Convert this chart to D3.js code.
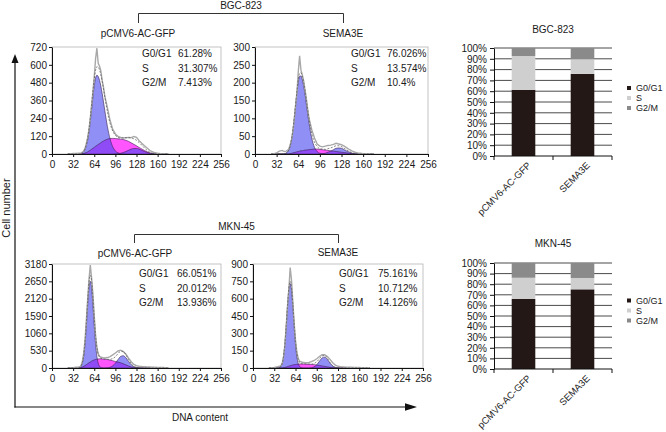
<!DOCTYPE html>
<html><head><meta charset="utf-8">
<script src="https://cdn.jsdelivr.net/npm/d3@7"></script>
<style>
body{margin:0;background:#fff}
svg{display:block}
text{font-family:"Liberation Sans",Arial,sans-serif;fill:#1a1a1a}
</style></head>
<body><svg width="666" height="432"></svg>
<script>
// ---------- DATA ----------
const channels = [24,28,32,36,40,42,44,46,48,50,52,54,56,58,60,62,64,66,68,70,72,74,76,78,80,84,88,92,96,100,104,108,112,116,120,124,128,132,136,140,144,148,152,156,160,164,168,172,176];
const xTickValues = [0,32,64,96,128,160,192,224,256];
const phases = ["G0/G1","S","G2/M"];
const groups = ["pCMV6-AC-GFP","SEMA3E"];
const pctTicks = [0,10,20,30,40,50,60,70,80,90,100];

// BGC-823 pCMV6-AC-GFP
const bgcCtrlTicks = [0,120,240,360,480,600,720];
const bgcCtrlStats = [61.28,31.307,7.413];
const bgcCtrlG1 = [0,0,0,0,0,1,3,7,15,30,58,93,147,218,300,385,460,511,530,521,496,457,407,350,292,184,101,49,21,8,2,1,0,0,0,0,0,0,0,0,0,0,0,0,0,0,0,0,0];
const bgcCtrlS  = [0,0,0,0,0,0,0,1,3,6,10,14,20,26,32,38,45,52,58,64,70,76,82,87,92,100,104,105,104,102,100,97,92,85,75,65,55,44,34,24,15,8,3,0,0,0,0,0,0];
const bgcCtrlG2 = [0,0,0,0,0,0,0,0,0,0,0,0,0,0,0,0,0,0,0,0,0,0,0,0,0,0,0,0,1,2,5,10,17,25,33,37,37,33,25,17,10,5,2,1,0,0,0,0,0];
const bgcCtrlRaw = [0,1,3,4,6,5,8,12,20,38,70,110,165,240,330,420,520,640,712,610,590,560,495,450,390,310,225,165,135,118,112,108,110,112,110,118,112,90,72,55,40,25,15,8,5,3,2,1,1];

// BGC-823 SEMA3E
const bgcSemaTicks = [0,50,100,150,200,250,300];
const bgcSemaStats = [76.026,13.574,10.4];
const bgcSemaG1 = [0,0,0,0,0,0,1,2,6,11,22,39,64,96,133,170,201,218,219,209,191,168,140,112,86,44,19,7,2,1,0,0,0,0,0,0,0,0,0,0,0,0,0,0,0,0,0,0,0];
const bgcSemaS  = [0,0,0,0,0,0,0,0,0,0,1,2,3,4,5,6,7,8,9,9,10,11,11,12,12,13,14,14,13,12,11,10,9,8,7,6,5,4,3,2,1,0,0,0,0,0,0,0,0];
const bgcSemaG2 = [0,0,0,0,0,0,0,0,0,0,0,0,0,0,0,0,0,0,0,0,0,0,0,0,0,0,0,0,0,1,2,5,8,12,16,17,16,12,8,5,2,1,0,0,0,0,0,0,0];
const bgcSemaRaw = [0,1,3,8,10,8,7,8,10,14,25,40,62,95,135,170,230,275,235,222,205,180,155,125,100,68,45,28,22,20,22,24,25,27,30,28,26,22,17,12,8,5,3,2,1,1,1,0,0];

// MKN-45 pCMV6-AC-GFP
const mknCtrlTicks = [0,530,1060,1590,2120,2650,3180];
const mknCtrlStats = [66.051,20.012,13.936];
const mknCtrlG1 = [0,0,0,0,4,16,53,149,359,737,1290,1924,2446,2650,2446,1924,1290,737,359,149,53,16,4,1,0,0,0,0,0,0,0,0,0,0,0,0,0,0,0,0,0,0,0,0,0,0,0,0,0];
const mknCtrlS  = [0,0,0,0,0,5,15,30,50,75,100,130,160,185,210,230,248,260,270,276,280,280,278,275,270,258,242,222,198,180,160,130,95,60,30,10,3,0,0,0,0,0,0,0,0,0,0,0,0];
const mknCtrlG2 = [0,0,0,0,0,0,0,0,0,0,0,0,0,0,0,0,0,0,0,0,0,0,0,0,1,6,23,66,147,259,354,376,312,201,101,40,12,2,0,0,0,0,0,0,0,0,0,0,0];
const mknCtrlRaw = [0,2,10,25,30,35,80,200,450,850,1450,2100,2700,3150,2750,2250,1600,1000,620,430,360,330,320,310,305,320,350,400,460,520,545,500,420,300,190,110,70,55,45,40,35,30,25,22,20,18,15,12,10];

// MKN-45 SEMA3E
const mknSemaTicks = [0,150,300,450,600,750,900];
const mknSemaStats = [75.161,10.712,14.126];
const mknSemaG1 = [0,0,0,0,4,15,41,99,203,356,530,674,730,674,530,356,203,99,41,15,4,1,0,0,0,0,0,0,0,0,0,0,0,0,0,0,0,0,0,0,0,0,0,0,0,0,0,0,0];
const mknSemaS  = [0,0,0,0,0,0,0,2,5,8,12,16,20,23,26,28,30,32,33,34,35,35,35,35,34,33,31,29,26,22,18,14,10,6,3,1,0,0,0,0,0,0,0,0,0,0,0,0,0];
const mknSemaG2 = [0,0,0,0,0,0,0,0,0,0,0,0,0,0,0,0,0,0,0,0,0,0,0,0,0,0,2,10,28,58,87,94,74,42,17,5,1,0,0,0,0,0,0,0,0,0,0,0,0];
const mknSemaRaw = [0,2,5,10,15,20,40,95,200,360,540,680,870,760,570,390,240,140,85,60,55,50,48,45,45,48,55,65,80,100,115,115,100,75,45,25,15,12,10,8,7,6,5,4,4,3,3,2,2];

const phaseColors = ["#231815","#cfcfcf","#8a8a8a"];

// ---------- DRAW ----------
const svg = d3.select("svg");
const FONT = "Liberation Sans, Arial, sans-serif";

// big axes with arrows
svg.append("line").attr("x1",15).attr("y1",407.5).attr("x2",15).attr("y2",60)
  .attr("stroke","#111").attr("stroke-width",1.2);
svg.append("path").attr("d","M15,54L11.5,63L18.5,63Z").attr("fill","#111");
svg.append("line").attr("x1",14.4).attr("y1",407).attr("x2",408).attr("y2",407)
  .attr("stroke","#111").attr("stroke-width",1.2);
svg.append("path").attr("d","M417,407L405,403.3L405,410.7Z").attr("fill","#111");
svg.append("text").attr("transform","translate(9.5,208) rotate(-90)")
  .attr("text-anchor","middle").attr("font-size",11).text("Cell number");
svg.append("text").attr("x",200).attr("y",421)
  .attr("text-anchor","middle").attr("font-size",10).text("DNA content");

// brackets
function bracket(xl, xr, y, yb, label, labelY) {
  svg.append("path").attr("d",`M${xl},${yb}V${y}H${xr}V${yb}`)
    .attr("fill","none").attr("stroke","#333").attr("stroke-width",1);
  svg.append("text").attr("x",(xl+xr)/2).attr("y",labelY)
    .attr("text-anchor","middle").attr("font-size",10).text(label);
}
bracket(138.5, 343.5, 13.5, 23, "BGC-823", 9);
bracket(134.5, 338.5, 234.5, 243, "MKN-45", 229.5);

// histograms
const panels = [
  {title:groups[0], raw:bgcCtrlRaw, g1:bgcCtrlG1, s:bgcCtrlS, g2:bgcCtrlG2, ticks:bgcCtrlTicks, stats:bgcCtrlStats,
   x0:52, x1:221, yTop:47, yBot:154, labX:142, valX:178, statY:[57,71.5,86], titleX:138, titleY:36.5},
  {title:groups[1], raw:bgcSemaRaw, g1:bgcSemaG1, s:bgcSemaS, g2:bgcSemaG2, ticks:bgcSemaTicks, stats:bgcSemaStats,
   x0:255, x1:428, yTop:47, yBot:154, labX:351, valX:387, statY:[57,71.5,86], titleX:343, titleY:36.5},
  {title:groups[0], raw:mknCtrlRaw, g1:mknCtrlG1, s:mknCtrlS, g2:mknCtrlG2, ticks:mknCtrlTicks, stats:mknCtrlStats,
   x0:52, x1:221, yTop:264, yBot:368, labX:139, valX:177, statY:[277,291.5,306], titleX:135, titleY:256.5},
  {title:groups[1], raw:mknSemaRaw, g1:mknSemaG1, s:mknSemaS, g2:mknSemaG2, ticks:mknSemaTicks, stats:mknSemaStats,
   x0:253, x1:423, yTop:264, yBot:368, labX:339, valX:378, statY:[277,291.5,306], titleX:338, titleY:256}
];

function styleAxis(g) {
  g.attr("font-family",FONT).attr("font-size",10);
  g.select(".domain").attr("stroke","#111");
  g.selectAll(".tick line").attr("stroke","#111");
  g.selectAll(".tick text").attr("fill","#1a1a1a");
}

panels.forEach(p => {
  const x = d3.scaleLinear().domain([0,256]).range([p.x0,p.x1]);
  const y = d3.scaleLinear().domain([0,d3.max(p.ticks)]).range([p.yBot,p.yTop]);
  const g = svg.append("g");
  g.append("rect").attr("x",p.x0).attr("y",p.yTop).attr("width",p.x1-p.x0).attr("height",p.yBot-p.yTop)
    .attr("fill","none").attr("stroke","#b5b5b5").attr("stroke-width",0.8);
  const area = d3.area().x((d,i)=>x(channels[i])).y0(y(0)).y1(d=>y(d)).curve(d3.curveMonotoneX);
  const line = d3.line().x((d,i)=>x(channels[i])).y(d=>y(d)).curve(d3.curveMonotoneX);
  const rawLine = d3.line().x((d,i)=>x(channels[i])).y(d=>y(d));
  g.append("path").attr("d",area(p.s)).attr("fill","#ff55ff");
  g.append("path").attr("d",area(p.g1)).attr("fill","#4444ee").attr("fill-opacity",0.6);
  g.append("path").attr("d",area(p.g2)).attr("fill","#4444ee").attr("fill-opacity",0.6);
  [p.s,p.g1,p.g2].forEach(arr => g.append("path").attr("d",line(arr)).attr("fill","none")
    .attr("stroke","#3a2050").attr("stroke-width",0.6));
  const fit = channels.map((c,i)=>p.g1[i]+p.s[i]+p.g2[i]);
  g.append("path").attr("d",rawLine(p.raw)).attr("fill","none").attr("stroke","#a8a8a8").attr("stroke-width",1.4);
  g.append("path").attr("d",line(fit)).attr("fill","none").attr("stroke","#555").attr("stroke-width",0.7)
    .attr("stroke-dasharray","2,1.5");
  g.append("g").attr("transform",`translate(${p.x0},0)`)
    .call(d3.axisLeft(y).tickValues(p.ticks).tickSize(3).tickSizeOuter(0).tickPadding(2).tickFormat(d3.format("d")))
    .call(styleAxis);
  g.append("g").attr("transform",`translate(0,${p.yBot})`)
    .call(d3.axisBottom(x).tickValues(xTickValues).tickSize(3).tickSizeOuter(0).tickPadding(4))
    .call(styleAxis);
  svg.append("text").attr("x",p.titleX).attr("y",p.titleY).attr("text-anchor","middle").attr("font-size",10).text(p.title);
  phases.forEach((ph,i) => {
    g.append("text").attr("x",p.labX).attr("y",p.statY[i]).attr("font-size",10).text(ph);
    g.append("text").attr("x",p.valX).attr("y",p.statY[i]).attr("font-size",10).text(p.stats[i] + "%");
  });
});

// stacked bar charts
const barCharts = [
  {title:"BGC-823", stats:[bgcCtrlStats,bgcSemaStats], y0:156, y100:48, titleY:33, legY:[88,98,108]},
  {title:"MKN-45", stats:[mknCtrlStats,mknSemaStats], y0:369, y100:263, titleY:247, legY:[300.5,310.5,320.5]}
];
barCharts.forEach(b => {
  const x = d3.scaleBand().domain(groups).range([494,612]).paddingInner(0.6).paddingOuter(0.3);
  const y = d3.scaleLinear().domain([0,100]).range([b.y0,b.y100]);
  const g = svg.append("g");
  pctTicks.filter(v=>v>0).forEach(v => g.append("line").attr("x1",494).attr("x2",612)
    .attr("y1",y(v)).attr("y2",y(v)).attr("stroke","#4a4a4a").attr("stroke-width",1));
  const table = groups.map((grp,gi) => {
    const o = {group:grp};
    phases.forEach((ph,pi) => o[ph] = b.stats[gi][pi]);
    return o;
  });
  const series = d3.stack().keys(phases)(table);
  series.forEach((s,si) => {
    g.selectAll(null).data(s).join("rect")
      .attr("x",d=>x(d.data.group)).attr("width",x.bandwidth())
      .attr("y",d=>y(Math.min(d[1],100))).attr("height",d=>y(d[0])-y(Math.min(d[1],100)))
      .attr("fill",phaseColors[si]);
  });
  g.append("g").attr("transform","translate(494,0)")
    .call(d3.axisLeft(y).tickValues(pctTicks).tickSize(4).tickSizeOuter(0).tickPadding(3).tickFormat(d=>d+"%"))
    .call(styleAxis);
  g.append("line").attr("x1",494).attr("x2",612).attr("y1",b.y0).attr("y2",b.y0).attr("stroke","#111");
  [494, 494+x.step(), 612].forEach(t => g.append("line").attr("x1",t).attr("x2",t)
    .attr("y1",b.y0).attr("y2",b.y0+4).attr("stroke","#111"));
  groups.forEach(grp => {
    const xc = x(grp) + x.bandwidth()/2;
    g.append("text").attr("transform",`translate(${xc+8},${b.y0+10}) rotate(-45)`)
      .attr("text-anchor","end").attr("font-size",9.5).text(grp);
  });
  g.append("text").attr("x",553).attr("y",b.titleY).attr("text-anchor","middle").attr("font-size",10).text(b.title);
  phases.forEach((ph,i) => {
    g.append("rect").attr("x",627).attr("y",b.legY[i]-2).attr("width",4).attr("height",4).attr("fill",phaseColors[i]);
    g.append("text").attr("x",636).attr("y",b.legY[i]+3.2).attr("font-size",9).text(ph);
  });
});
</script>
</body></html>
